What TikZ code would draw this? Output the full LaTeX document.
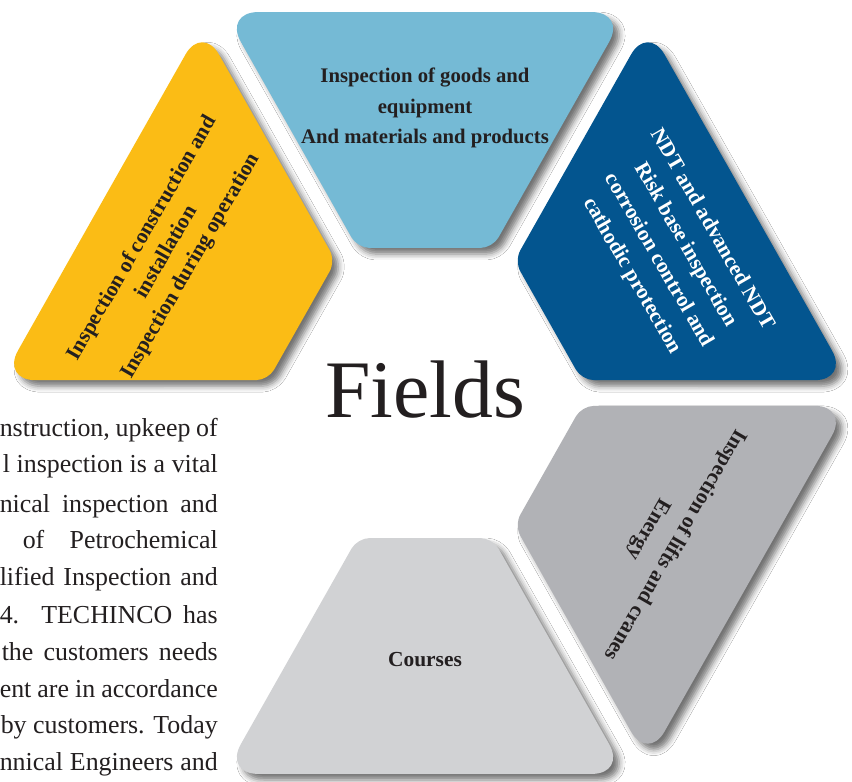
\documentclass[tikz,border=0pt]{standalone}
\usepackage{fontspec}
\setmainfont{Liberation Serif}
\usetikzlibrary{shadows.blur}

\definecolor{goodsblue}{RGB}{117,186,213}
\definecolor{ndtblue}{RGB}{3,85,143}
\definecolor{constryellow}{RGB}{251,188,21}
\definecolor{liftsgray}{RGB}{177,178,182}
\definecolor{coursesgray}{RGB}{209,210,212}
\definecolor{inkblack}{RGB}{35,31,32}

\tikzset{
	fieldpiece/.style={blur shadow={shadow xshift=6bp,shadow yshift=-6bp,shadow blur radius=6bp,shadow opacity=55}},
	fieldtext/.style={font=\bfseries\fontsize{21.5}{31}\selectfont,align=center,text=inkblack},
	bodyline/.style={font=\fontsize{26}{37}\selectfont,anchor=base east,inner sep=0pt,text=inkblack}
}

\begin{document}
\begin{tikzpicture}[x=1bp,y=1bp]
	\newcommand{\midR}{381}
	\newcommand{\outerV}{432.6}
	\newcommand{\innerV}{160.6}
	\newcommand{\paraX}{-207}

	\useasboundingbox (-425,-389) rectangle (427,393);
	\fill[white] (-425,-389) rectangle (427,393);
	\coordinate (origo) at (0,0);

	% the five pieces of the hexagon
	\begin{scope}[xscale=0.98]
		\fill[fieldpiece,fill=ndtblue] (30:\midR) [rounded corners=34bp] -- (1.7:\outerV) [rounded corners=12bp] -- (4.6:\innerV) -- (55.4:\innerV) [rounded corners=34bp] -- (58.3:\outerV) -- cycle;
		\fill[fieldpiece,fill=goodsblue] (90:\midR) [rounded corners=34bp] -- (61.7:\outerV) [rounded corners=12bp] -- (64.6:\innerV) -- (115.4:\innerV) [rounded corners=34bp] -- (118.3:\outerV) -- cycle;
		\fill[fieldpiece,fill=constryellow] (150:\midR) [rounded corners=34bp] -- (121.7:\outerV) [rounded corners=12bp] -- (124.6:\innerV) -- (175.4:\innerV) [rounded corners=34bp] -- (178.3:\outerV) -- cycle;
		\fill[fieldpiece,fill=coursesgray] (270:\midR) [rounded corners=34bp] -- (241.7:\outerV) [rounded corners=12bp] -- (244.6:\innerV) -- (295.4:\innerV) [rounded corners=34bp] -- (298.3:\outerV) -- cycle;
		\fill[fieldpiece,fill=liftsgray] (330:\midR) [rounded corners=34bp] -- (301.7:\outerV) [rounded corners=12bp] -- (304.6:\innerV) -- (355.4:\innerV) [rounded corners=34bp] -- (358.3:\outerV) -- cycle;
	\end{scope}

	% labels of the pieces
	\node[fieldtext,font=\bfseries\fontsize{20.8}{31}\selectfont] (goods) at (90:285) {Inspection of goods and\\equipment\\And materials and products};
	\node[fieldtext,text=white,rotate=-60] (ndt) at (29.6:284) {NDT and advanced NDT\\Risk base inspection\\corrosion control and\\cathodic protection};
	\node[fieldtext,rotate=60,font=\bfseries\fontsize{21.5}{28}\selectfont] (constr) at (151.4:294) {Inspection of construction and\\installation\\Inspection during operation};
	\node[fieldtext,rotate=-120] (lifts) at (328.7:277) {Inspection of lifts and cranes\\Energy};
	\node[fieldtext] (courses) at (270:267) {Courses};

	\node[font=\fontsize{82}{82}\selectfont,text=inkblack,anchor=base] (fields) at (0,-25) {Fields};

	% text on the left
	\node[bodyline] (line1) at (\paraX,-44) {\makebox[218bp][s]{nstruction, upkeep of}};
	\node[bodyline] (line2) at (\paraX,-80) {\makebox[215bp][s]{l inspection is a vital}};
	\node[bodyline] (line3) at (\paraX,-119) {\makebox[218bp][s]{nical inspection and}};
	\node[bodyline] (line4) at (\paraX,-155) {\makebox[195bp][s]{of Petrochemical}};
	\node[bodyline] (line5) at (\paraX,-192) {\makebox[218bp][s]{lified Inspection and}};
	\node[bodyline] (line6) at (\paraX,-230) {\makebox[218bp][s]{4. TECHINCO has}};
	\node[bodyline] (line7) at (\paraX,-267) {\makebox[216bp][s]{the customers needs}};
	\node[bodyline] (line8) at (\paraX,-304) {\makebox[218bp][s]{ent are in accordance}};
	\node[bodyline] (line9) at (\paraX,-340) {\makebox[217bp][s]{by customers. Today}};
	\node[bodyline] (line10) at (\paraX,-377) {\makebox[218bp][s]{nnical Engineers and}};
\end{tikzpicture}
\end{document}
